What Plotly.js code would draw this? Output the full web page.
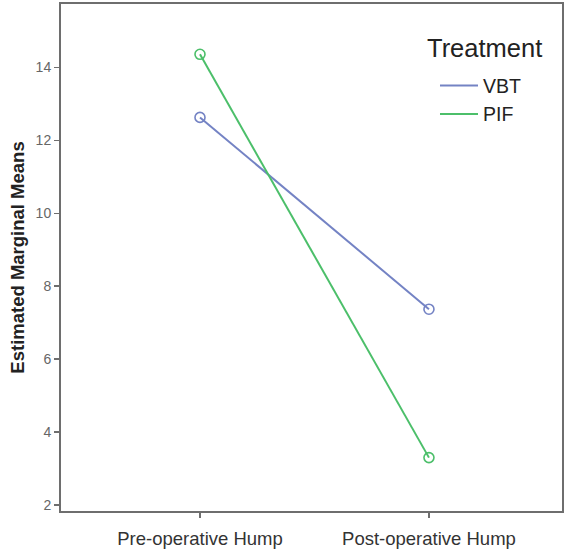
<!DOCTYPE html>
<html>
<head>
<meta charset="utf-8">
<script src="https://cdn.plot.ly/plotly-3.0.1.min.js"></script>
<style>
  html, body { margin: 0; padding: 0; background: #ffffff; }
  #chart { width: 564px; height: 553px; }
</style>
</head>
<body>
<div id="chart"></div>
<script>
// Estimated marginal means of hump size, by time point and treatment
const timePoints = ['Pre-operative Hump', 'Post-operative Hump'];
const vbtMeans = [12.63, 7.37];
const pifMeans = [14.36, 3.30];
const yTicks = [2, 4, 6, 8, 10, 12, 14];

const FONT = 'Liberation Sans, Arial, sans-serif';
const VBT_COLOR = '#7483c4';
const PIF_COLOR = '#4cbf6a';

// A line trace (shown in the legend) plus its open-circle markers (legend hidden)
function series(name, values, color) {
  return [
    {
      type: 'scatter',
      mode: 'lines',
      name: name,
      legendgroup: name,
      x: timePoints,
      y: values,
      line: { color: color, width: 2 }
    },
    {
      type: 'scatter',
      mode: 'markers',
      name: name,
      legendgroup: name,
      showlegend: false,
      x: timePoints,
      y: values,
      marker: {
        symbol: 'circle-open',
        size: 10,
        color: color,
        line: { color: color, width: 1.6 }
      }
    }
  ];
}

const data = [
  ...series('VBT', vbtMeans, VBT_COLOR),
  ...series('PIF', pifMeans, PIF_COLOR)
];

const layout = {
  width: 564,
  height: 553,
  margin: { l: 61, r: 2, t: 4, b: 42 },
  paper_bgcolor: '#ffffff',
  plot_bgcolor: '#ffffff',
  font: { family: FONT, color: '#333333' },
  showlegend: true,
  legend: {
    x: 0.7465,
    y: 0.877,
    xanchor: 'left',
    yanchor: 'top',
    bgcolor: 'rgba(0,0,0,0)',
    itemwidth: 38,
    font: { size: 19.5, family: FONT, color: '#222222' },
    tracegroupgap: 0
  },
  annotations: [{
    text: 'Treatment',
    xref: 'paper',
    yref: 'paper',
    x: 0.7265,
    y: 0.914,
    xanchor: 'left',
    yanchor: 'middle',
    showarrow: false,
    font: { size: 25.5, family: FONT, color: '#222222' }
  }],
  xaxis: {
    type: 'category',
    range: [-0.607, 1.581],
    showline: true,
    linecolor: '#6e6e6e',
    linewidth: 2,
    mirror: true,
    showgrid: false,
    zeroline: false,
    ticks: 'outside',
    ticklen: 5,
    tickwidth: 1.5,
    tickcolor: '#6e6e6e',
    tickfont: { size: 18.5, family: FONT, color: '#333333' },
    ticklabelstandoff: 5
  },
  yaxis: {
    range: [1.836, 15.74],
    tickvals: yTicks,
    ticktext: yTicks.map(String),
    showline: true,
    linecolor: '#6e6e6e',
    linewidth: 2,
    mirror: true,
    showgrid: false,
    zeroline: false,
    ticks: 'outside',
    ticklen: 5,
    tickwidth: 1.5,
    tickcolor: '#6e6e6e',
    tickfont: { size: 14, family: FONT, color: '#666666' },
    title: {
      text: 'Estimated Marginal Means',
      font: { size: 18.5, family: FONT, color: '#222222', weight: 'bold' },
      standoff: 6
    }
  }
};

Plotly.newPlot('chart', data, layout, { displayModeBar: false, staticPlot: true });
</script>
</body>
</html>
